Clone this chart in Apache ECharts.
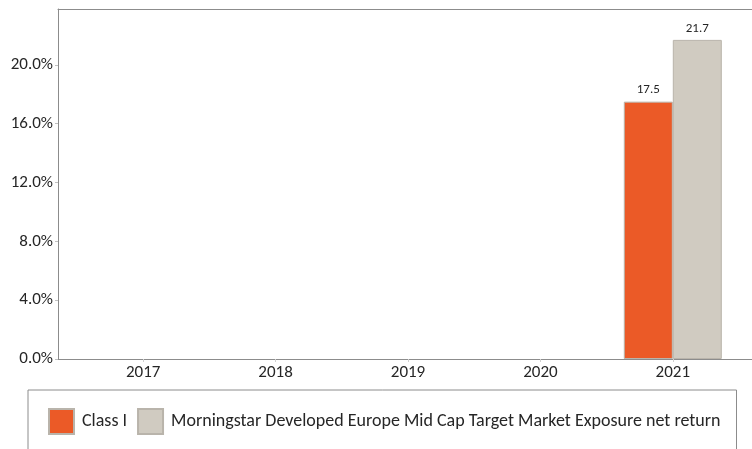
<!DOCTYPE html>
<html>
<head>
<meta charset="utf-8">
<script src="https://cdn.jsdelivr.net/npm/echarts@6/dist/echarts.min.js"></script>
<style>
html, body { margin: 0; padding: 0; background: #fff; }
#chart { width: 752px; height: 449px; }
</style>
</head>
<body>
<div id="chart"></div>
<script>
// data
var years = ['2017', '2018', '2019', '2020', '2021'];
var classI = [null, null, null, null, 17.5];
var benchmark = [null, null, null, null, 21.7];
var seriesNames = ['Class I', 'Morningstar Developed Europe Mid Cap Target Market Exposure net return'];

var font = 'Calibri, Carlito, Lato, sans-serif';
var frameLine = { show: true, lineStyle: { color: '#8c8c8c' } };
var chart = echarts.init(document.getElementById('chart'));

chart.setOption({
    animation: false,
    textStyle: { fontFamily: font },
    grid: [
        // frame with the y axis, right side runs off the picture
        { left: 58, right: 0, top: 9, bottom: 90 },
        // the bars
        { left: 77, right: 13, top: 9, bottom: 90 }
    ],
    xAxis: [
        { gridIndex: 0, type: 'category', data: [''], position: 'bottom',
          axisLine: frameLine, axisTick: { show: false }, axisLabel: { show: false } },
        { gridIndex: 0, type: 'category', data: [''], position: 'top',
          axisLine: frameLine, axisTick: { show: false }, axisLabel: { show: false } },
        {
            gridIndex: 1, type: 'category', data: years,
            axisLine: { show: false },
            axisTick: { show: true, alignWithLabel: true, length: 3, lineStyle: { color: '#d0d0d0' } },
            axisLabel: { color: '#262626', fontSize: 17, margin: 5 }
        }
    ],
    yAxis: [
        {
            gridIndex: 0, type: 'value', min: 0, max: 23.8, interval: 4,
            axisLine: frameLine,
            axisTick: { show: true, length: 3, lineStyle: { color: '#c0c0c0' } },
            splitLine: { show: false },
            axisLabel: {
                color: '#262626', fontSize: 17, margin: 5,
                showMaxLabel: false,
                formatter: function (v) { return v.toFixed(1) + '%'; }
            }
        },
        { gridIndex: 1, type: 'value', min: 0, max: 23.8, interval: 4, show: false }
    ],
    legend: {
        left: 28, top: 390,
        padding: [18, 16, 60, 20],
        borderColor: '#8c8c8c', borderWidth: 1,
        itemWidth: 25, itemHeight: 25, itemGap: 10,
        icon: 'rect',
        textStyle: { color: '#262626', fontSize: 18, padding: [0, 0, 0, 3] },
        data: seriesNames
    },
    series: [
        {
            name: seriesNames[0], type: 'bar', xAxisIndex: 2, yAxisIndex: 1,
            data: classI, barWidth: 49, barGap: '0%',
            itemStyle: { color: '#eb5a27', borderColor: '#b9b4ab', borderWidth: 1 },
            label: { show: true, position: 'top', color: '#262626', fontSize: 13, distance: 5 }
        },
        {
            name: seriesNames[1], type: 'bar', xAxisIndex: 2, yAxisIndex: 1,
            data: benchmark, barWidth: 49, barGap: '0%',
            itemStyle: { color: '#d0cbc1', borderColor: '#b9b4ab', borderWidth: 1 },
            label: { show: true, position: 'top', color: '#262626', fontSize: 13, distance: 5 }
        }
    ]
});
</script>
</body>
</html>
